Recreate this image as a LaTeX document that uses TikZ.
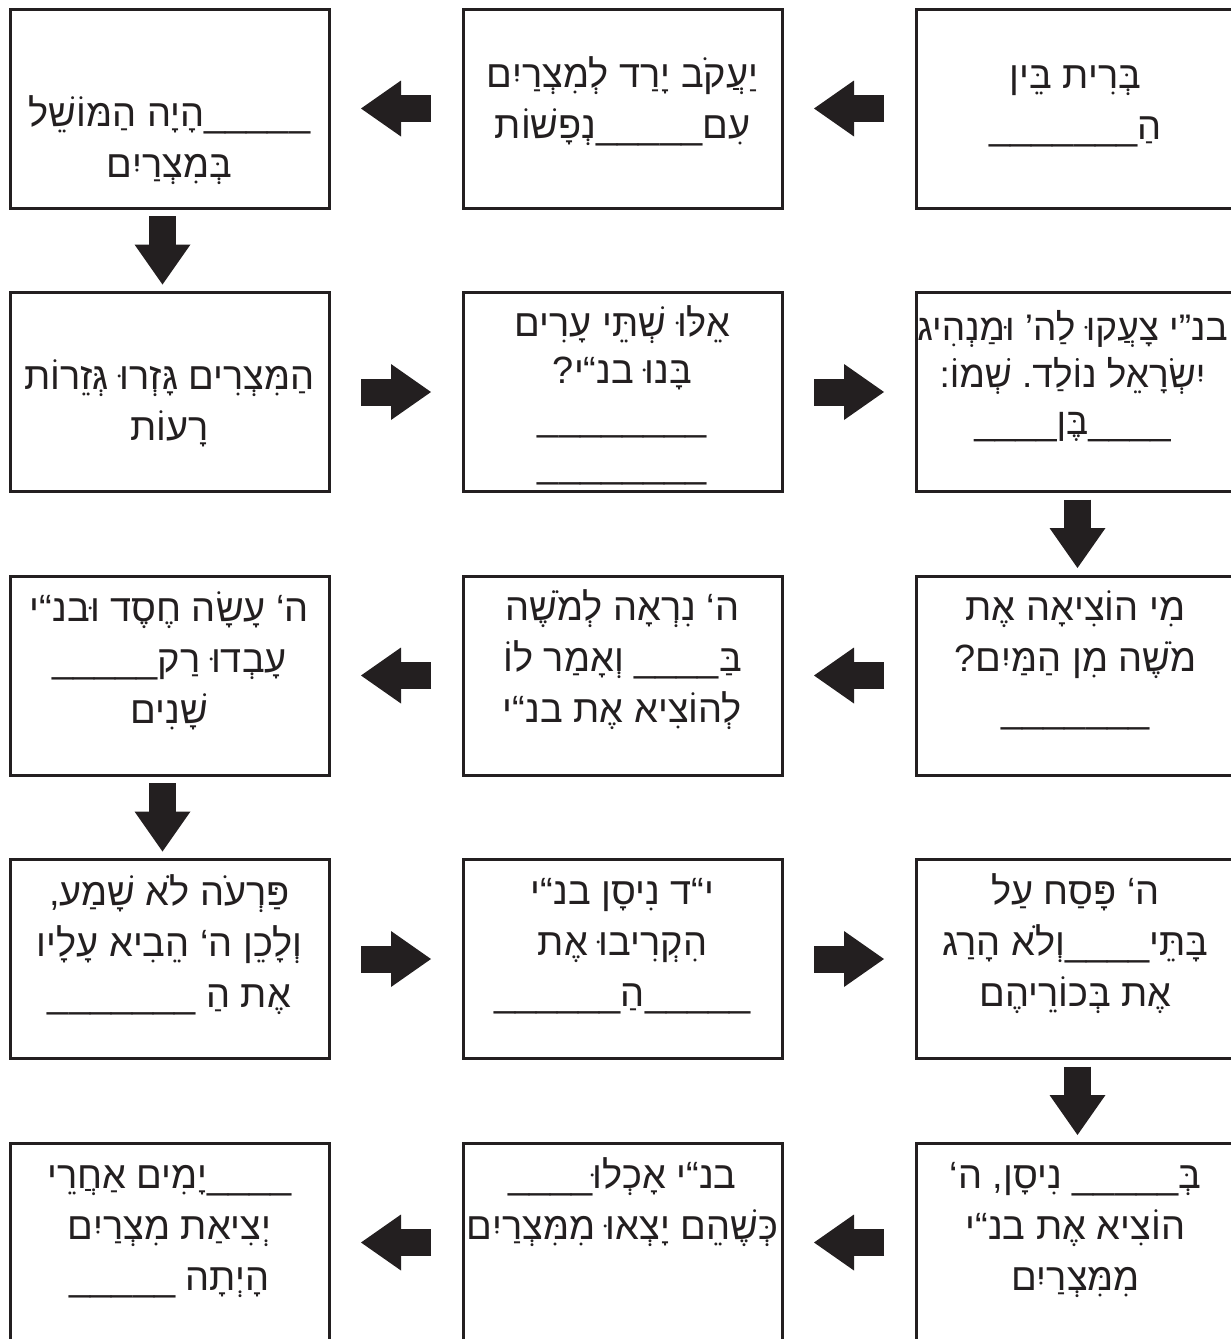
\documentclass[tikz,border=0pt]{standalone}
\usepackage{fontspec}
\usepackage{tikz}
\usetikzlibrary{arrows.meta, positioning}
\TeXXeTstate=1
\frenchspacing
\newfontfamily\hebfont[Script=Hebrew]{Liberation Sans}
\definecolor{inkblack}{HTML}{231F20}
\newcommand{\fillin}[1]{\mbox{\foreach \k in {1,...,#1}{\_}}}

\begin{document}
\begin{tikzpicture}[
    node distance=84.5pt and 134pt,
    card/.style={draw=inkblack, line width=3pt, outer sep=0pt, inner sep=0pt,
                 minimum width=319pt, minimum height=199pt},
    txt/.style={anchor=base, align=center, inner sep=0pt, text=inkblack,
                font=\hebfont\fontsize{38}{51}\selectfont},
    tight/.style={font=\hebfont\fontsize{38}{47}\selectfont},
    fat/.style={draw=inkblack, line width=27pt, shorten <=32pt, shorten >=32pt,
                -{Triangle[length=40pt, width=56pt, line width=0pt]}},
    down/.style={fat, shorten <=8pt, shorten >=8pt},
  ]
  \useasboundingbox (0pt,0pt) rectangle (1231pt,-1339pt);

  % Row 1
  \node[card] (r1c3) at (1075.5pt,-108.5pt) {};
  \node[card, left=of r1c3] (r1c2) {};
  \node[card, left=of r1c2] (r1c1) {};
  \node[txt] (t1c3) at ([yshift=-130pt]r1c3.north)
    {\beginR בְּרִית בֵּין\endR\\\beginR הַ\fillin{7}\endR};
  \node[txt] (t1c2) at ([yshift=-129pt]r1c2.north)
    {\beginR יַעֲקֹב יָרַד לְמִצְרַיִם\endR\\\beginR עִם\fillin{5}נְפָשׁוֹת\endR};
  \node[txt] (t1c1) at ([yshift=-168pt]r1c1.north)
    {\beginR\fillin{5}הָיָה הַמּוֹשֵׁל\endR\\\beginR בְּמִצְרַיִם\endR};

  % Row 2
  \node[card, below=of r1c1] (r2c1) {};
  \node[card, right=of r2c1] (r2c2) {};
  \node[card, right=of r2c2] (r2c3) {};
  \node[txt, tight, font=\hebfont\fontsize{37}{47}\selectfont] (t2c3) at ([xshift=-3pt, yshift=-142pt]r2c3.north)
    {\beginR בנ”י צָעֲקוּ לַה’ וּמַנְהִיג\endR\\\beginR יִשְׂרָאֵל נוֹלַד. שְׁמוֹ:\endR\\\beginR\fillin{4}בֶּן\fillin{4}\endR};
  \node[txt, tight] (t2c2) at ([yshift=-185pt]r2c2.north)
    {\beginR אֵלּוּ שְׁתֵּי עָרִים\endR\\\beginR בָּנוּ בנ“י?\endR\\\beginR\fillin{8}\endR\\\beginR\fillin{8}\endR};
  \node[txt] (t2c1) at ([yshift=-148pt]r2c1.north)
    {\beginR הַמִּצְרִים גָּזְרוּ גְּזֵרוֹת\endR\\\beginR רָעוֹת\endR};

  % Row 3
  \node[card, below=of r2c3] (r3c3) {};
  \node[card, left=of r3c3] (r3c2) {};
  \node[card, left=of r3c2] (r3c1) {};
  \node[txt] (t3c3) at ([yshift=-146pt]r3c3.north)
    {\beginR מִי הוֹצִיאָה אֶת\endR\\\beginR מֹשֶׁה מִן הַמַּיִם?\endR\\\beginR\fillin{7}\endR};
  \node[txt] (t3c2) at ([yshift=-146pt]r3c2.north)
    {\beginR ה‘ נִרְאָה לְמֹשֶׁה\endR\\\beginR בַּ\fillin{4} וְאָמַר לוֹ\endR\\\beginR לְהוֹצִיא אֶת בנ“י\endR};
  \node[txt] (t3c1) at ([yshift=-147pt]r3c1.north)
    {\beginR ה‘ עָשָׂה חֶסֶד וּבנ“י\endR\\\fillin{5}\beginR עָבְדוּ רַק\endR\\\beginR שָׁנִים\endR};

  % Row 4
  \node[card, below=of r3c1] (r4c1) {};
  \node[card, right=of r4c1] (r4c2) {};
  \node[card, right=of r4c2] (r4c3) {};
  \node[txt] (t4c3) at ([yshift=-147pt]r4c3.north)
    {\beginR ה‘ פָּסַח עַל\endR\\\beginR בָּתֵּי\fillin{4}וְלֹא הָרַג\endR\\\beginR אֶת בְּכוֹרֵיהֶם\endR};
  \node[txt] (t4c2) at ([yshift=-147pt]r4c2.north)
    {\beginR י“ד נִיסָן בנ“י\endR\\\beginR הִקְרִיבוּ אֶת\endR\\\beginR\fillin{5}הַ\fillin{6}\endR};
  \node[txt] (t4c1) at ([yshift=-148pt]r4c1.north)
    {\beginR פַּרְעֹה לֹא שָׁמַע,\endR\\\beginR וְלָכֵן ה‘ הֵבִיא עָלָיו\endR\\\beginR אֶת הַ \fillin{7}\endR};

  % Row 5
  \node[card, below=of r4c3] (r5c3) {};
  \node[card, left=of r5c3] (r5c2) {};
  \node[card, left=of r5c2] (r5c1) {};
  \node[txt] (t5c3) at ([yshift=-147pt]r5c3.north)
    {\beginR בְּ\fillin{5} נִיסָן, ה‘\endR\\\beginR הוֹצִיא אֶת בנ“י\endR\\\beginR מִמִּצְרַיִם\endR};
  \node[txt] (t5c2) at ([yshift=-96pt]r5c2.north)
    {\fillin{4}\beginR בנ“י אָכְלוּ\endR\\\beginR כְּשֶׁהֵם יָצְאוּ מִמִּצְרַיִם\endR};
  \node[txt] (t5c1) at ([yshift=-147pt]r5c1.north)
    {\beginR\fillin{4}יָמִים אַחֲרֵי\endR\\\beginR יְצִיאַת מִצְרַיִם\endR\\\beginR הָיְתָה \fillin{5}\endR};

  % Arrows
  \draw[fat] (r1c3) -- (r1c2);
  \draw[fat] (r1c2) -- (r1c1);
  \draw[down] ([xshift=-7pt]r1c1.south) -- ([xshift=-7pt]r2c1.north);
  \draw[fat] (r2c1) -- (r2c2);
  \draw[fat] (r2c2) -- (r2c3);
  \draw[down] ([xshift=2pt]r2c3.south) -- ([xshift=2pt]r3c3.north);
  \draw[fat] (r3c3) -- (r3c2);
  \draw[fat] (r3c2) -- (r3c1);
  \draw[down] ([xshift=-7pt]r3c1.south) -- ([xshift=-7pt]r4c1.north);
  \draw[fat] (r4c1) -- (r4c2);
  \draw[fat] (r4c2) -- (r4c3);
  \draw[down] ([xshift=2pt]r4c3.south) -- ([xshift=2pt]r5c3.north);
  \draw[fat] (r5c3) -- (r5c2);
  \draw[fat] (r5c2) -- (r5c1);

\end{tikzpicture}
\end{document}
